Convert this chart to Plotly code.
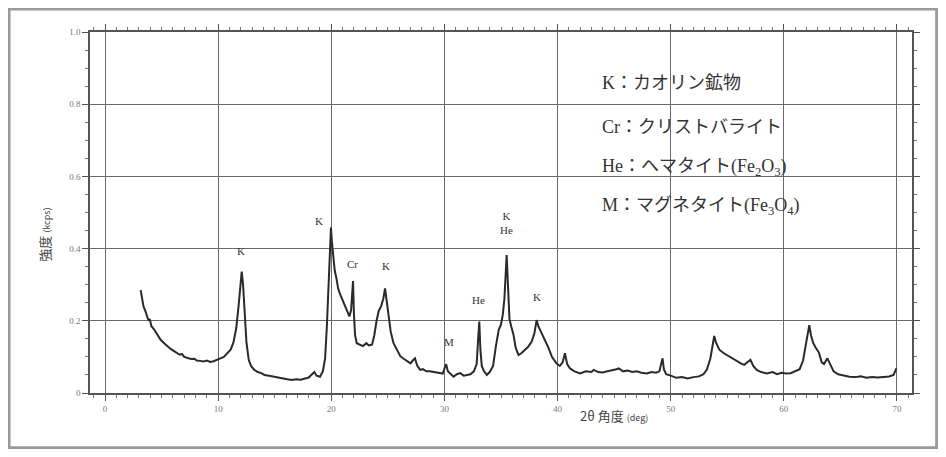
import plotly.graph_objects as go

two_theta = [3.15,3.25,3.4,3.55,3.7,3.85,3.95,4.1,4.3,4.5,4.7,4.9,5.15,5.4,5.6,5.8,6.0,6.3,6.6,6.8,7.0,7.3,7.6,7.9,8.1,8.4,8.7,9.0,9.3,9.6,9.9,10.2,10.5,10.8,11.1,11.35,11.6,11.8,11.95,12.08,12.2,12.35,12.5,12.7,12.9,13.2,13.5,13.8,14.1,14.5,14.9,15.3,15.7,16.1,16.5,16.9,17.3,17.7,18.0,18.3,18.5,18.7,19.0,19.25,19.45,19.6,19.75,19.88,19.97,20.05,20.15,20.3,20.45,20.6,20.8,21.0,21.2,21.4,21.6,21.75,21.85,21.92,22.0,22.1,22.25,22.5,22.8,23.1,23.3,23.6,23.8,24.0,24.2,24.4,24.6,24.75,24.9,25.05,25.25,25.5,25.8,26.1,26.4,26.7,27.0,27.2,27.4,27.6,27.85,28.1,28.4,28.7,29.0,29.3,29.6,29.85,30.05,30.15,30.3,30.5,30.8,31.1,31.4,31.7,32.0,32.3,32.6,32.85,32.98,33.08,33.18,33.3,33.5,33.75,34.0,34.3,34.55,34.8,35.0,35.15,35.3,35.42,35.5,35.6,35.75,35.9,36.1,36.3,36.55,36.8,37.1,37.4,37.7,37.95,38.15,38.3,38.6,38.9,39.2,39.5,39.9,40.2,40.45,40.65,40.85,41.1,41.5,42.0,42.5,43.0,43.2,43.6,44.0,44.4,44.8,45.2,45.4,45.8,46.2,46.6,47.0,47.4,47.9,48.3,48.7,49.0,49.15,49.28,49.4,49.6,50.0,50.5,51.0,51.5,52.0,52.5,52.9,53.2,53.5,53.7,53.85,54.0,54.3,54.7,55.0,55.4,55.8,56.2,56.5,56.8,57.05,57.3,57.6,58.0,58.5,59.0,59.4,59.8,60.2,60.6,61.0,61.4,61.7,61.9,62.1,62.25,62.4,62.6,62.85,63.1,63.35,63.55,63.85,64.05,64.4,64.8,65.3,65.8,66.3,66.8,67.3,67.8,68.3,68.8,69.3,69.7,69.95]
intensity = [0.285,0.262,0.24,0.228,0.215,0.2,0.205,0.185,0.178,0.168,0.158,0.148,0.14,0.132,0.128,0.122,0.118,0.112,0.106,0.108,0.1,0.097,0.094,0.095,0.09,0.089,0.087,0.09,0.086,0.088,0.093,0.096,0.1,0.11,0.12,0.14,0.18,0.24,0.3,0.336,0.3,0.21,0.14,0.092,0.075,0.064,0.058,0.055,0.05,0.048,0.045,0.043,0.04,0.038,0.036,0.038,0.037,0.04,0.043,0.052,0.058,0.048,0.045,0.06,0.095,0.18,0.3,0.43,0.458,0.42,0.385,0.34,0.318,0.29,0.272,0.258,0.245,0.228,0.212,0.23,0.3,0.31,0.22,0.16,0.138,0.135,0.13,0.138,0.132,0.134,0.16,0.2,0.228,0.24,0.262,0.29,0.255,0.21,0.17,0.138,0.118,0.102,0.095,0.088,0.082,0.09,0.096,0.075,0.064,0.066,0.06,0.06,0.058,0.057,0.055,0.054,0.072,0.08,0.06,0.055,0.045,0.052,0.055,0.048,0.05,0.052,0.06,0.08,0.15,0.198,0.12,0.075,0.06,0.05,0.058,0.075,0.13,0.175,0.19,0.215,0.26,0.34,0.382,0.31,0.205,0.185,0.162,0.125,0.105,0.11,0.118,0.128,0.142,0.165,0.202,0.185,0.165,0.145,0.125,0.1,0.082,0.075,0.085,0.11,0.08,0.068,0.06,0.054,0.06,0.058,0.064,0.058,0.057,0.06,0.062,0.066,0.068,0.06,0.062,0.058,0.06,0.056,0.054,0.058,0.056,0.06,0.08,0.096,0.065,0.052,0.048,0.042,0.044,0.04,0.044,0.046,0.052,0.065,0.095,0.13,0.158,0.14,0.12,0.11,0.104,0.096,0.09,0.082,0.078,0.085,0.092,0.075,0.064,0.058,0.054,0.058,0.052,0.056,0.054,0.055,0.06,0.066,0.09,0.125,0.165,0.188,0.16,0.138,0.124,0.112,0.085,0.08,0.096,0.082,0.06,0.052,0.048,0.045,0.044,0.046,0.042,0.044,0.043,0.045,0.046,0.05,0.068]

peak_labels = ["K", "K", "Cr", "K", "M", "He", "K<br>He", "K"]
peak_x = [12.0, 18.9, 21.9, 24.8, 30.4, 33.0, 35.45, 38.2]
peak_y = [0.37, 0.455, 0.335, 0.33, 0.12, 0.235, 0.43, 0.245]

legend_lines = ["K：カオリン鉱物", "Cr：クリストバライト",
                "He：ヘマタイト(Fe<sub>2</sub>O<sub>3</sub>)",
                "M：マグネタイト(Fe<sub>3</sub>O<sub>4</sub>)"]
legend_y = [0.859, 0.737, 0.626, 0.518]

x_ticks = [0, 10, 20, 30, 40, 50, 60, 70]
y_ticks = [0, 0.2, 0.4, 0.6, 0.8, 1.0]
y_ticktext = ["0", "0.2", "0.4", "0.6", "0.8", "1.0"]

fig = go.Figure()
fig.add_trace(go.Scatter(x=two_theta, y=intensity, mode="lines",
                         line=dict(color="#2a2a2a", width=2), hoverinfo="skip"))

serif = "Liberation Serif, Noto Sans CJK JP, serif"
for t, px, py in zip(peak_labels, peak_x, peak_y):
    fig.add_annotation(x=px, y=py, text=t, showarrow=False, xref="x", yref="y",
                       font=dict(family=serif, size=11, color="#333"), yanchor="bottom")

for t, py in zip(legend_lines, legend_y):
    fig.add_annotation(x=43.75, y=py, text=t, showarrow=False, xref="x", yref="y",
                       xanchor="left", yanchor="middle",
                       font=dict(family=serif, size=18, color="#333"))

fig.add_annotation(x=-0.069, y=0.438, xref="paper", yref="paper", textangle=-90,
                   text="強度 <span style='font-size:9px'>(kcps)</span>", showarrow=False,
                   font=dict(family="Noto Sans CJK JP", size=13, color="#444"))
fig.add_annotation(x=45, y=-0.094, xref="x", yref="paper",
                   text="2θ 角度 <span style='font-size:9px'>(deg)</span>", showarrow=False,
                   font=dict(family="Noto Sans CJK JP", size=13, color="#444"))

fig.add_shape(type="rect", xref="paper", yref="paper", x0=-0.0985, x1=1.03, y0=-0.152, y1=1.064,
              line=dict(color="#9a9a9a", width=3), layer="below")

axis_common = dict(showline=True, linecolor="#555", linewidth=1.5, mirror="allticks",
                   ticks="outside", ticklen=6, tickcolor="#555",
                   showgrid=True, gridcolor="#6a6a6a", gridwidth=1, zeroline=False,
                   tickfont=dict(family="Liberation Serif", size=9, color="#777"))

fig.update_xaxes(range=[-1.33, 71.33], tickvals=x_ticks,
                 minor=dict(dtick=1, tick0=0, ticks="outside", ticklen=3, tickcolor="#777", showgrid=False),
                 **axis_common)
fig.update_yaxes(range=[0, 1], tickvals=y_ticks, ticktext=y_ticktext,
                 minor=dict(dtick=0.05, tick0=0, ticks="outside", ticklen=3, tickcolor="#777", showgrid=False),
                 **axis_common)

fig.update_layout(width=930, height=441, margin=dict(l=82, r=26, t=24, b=56),
                  paper_bgcolor="white", plot_bgcolor="white", showlegend=False)

fig.write_html("out.html")
